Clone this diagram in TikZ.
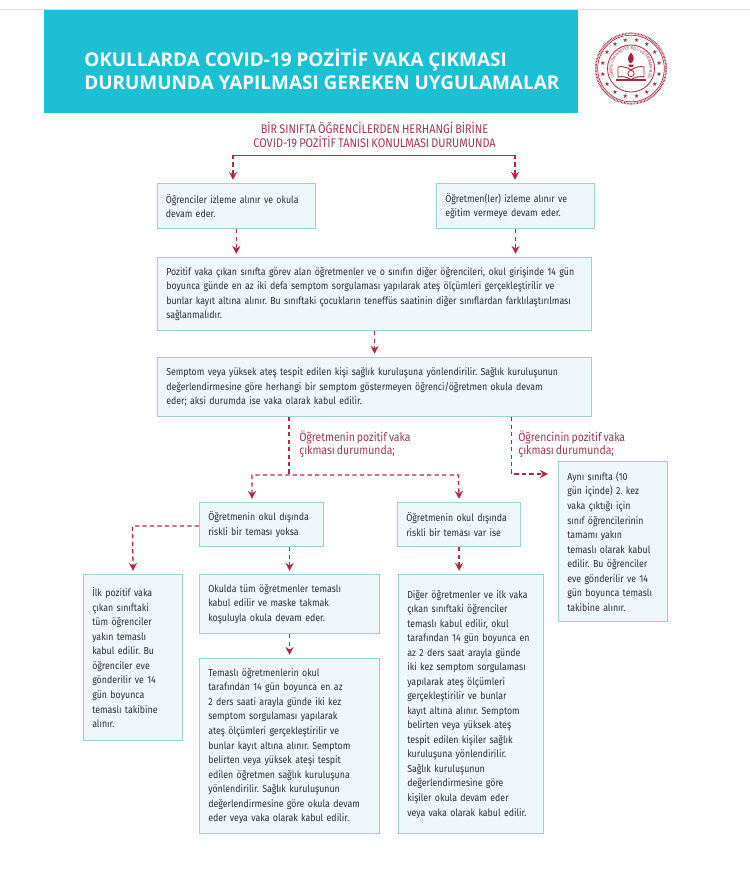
\documentclass[tikz,border=0pt]{standalone}
\usepackage{fontspec}
\usepackage{tikz}
\usepackage{xcolor}
\usetikzlibrary{arrows.meta,decorations.text}
\setmainfont[FakeStretch=0.87,WordSpace=0.75]{Fira Sans}
\newfontfamily\baslikfont{Open Sans}
\newfontfamily\yildizfont{DejaVu Sans}
\definecolor{banner}{HTML}{1DBFD3}
\definecolor{kutuzemin}{HTML}{F0F7FA}
\definecolor{kutukenar}{HTML}{9FCFD3}
\definecolor{metin}{HTML}{2C2C32}
\definecolor{bordo}{HTML}{9A3B52}
\definecolor{ok}{HTML}{AE2A44}
\definecolor{arma}{HTML}{A3283F}
\tikzset{
  >={Stealth[length=6pt,width=6pt]},
  kutu/.style n args={2}{draw=kutukenar,fill=kutuzemin,line width=0.9pt,anchor=north west,
    inner xsep=6.5pt,inner ysep=0pt,align=left,text=metin,
    text width=#1*0.75pt-13pt,minimum height=#2*0.75pt,
    font=\frenchspacing\fontsize{7.6}{10.9}\selectfont},
  baslik/.style={text=bordo,align=center,font=\frenchspacing\fontsize{9.4}{10.6}\selectfont},
  dal/.style={text=bordo,align=left,anchor=north west,inner sep=0pt,font=\frenchspacing\fontsize{9}{10.2}\selectfont},
  kesik/.style={draw=ok,line width=1pt,dash pattern=on 3.2pt off 2.4pt},
  okucu/.style={kesik,->,shorten >=2.3pt}
}
\begin{document}
\begin{tikzpicture}[x=0.75pt,y=-0.75pt]
\useasboundingbox (0,0) rectangle (750,872);
\fill[white] (0,0) rectangle (750,872);
\draw[gray!25,line width=0.6pt] (0,9) -- (750,9);
% ust bant
\fill[banner] (44,10) rectangle (578,113);
\node[anchor=west,inner sep=0pt,text=white,align=left,font=\baslikfont\bfseries\fontsize{14.2}{17.2}\selectfont] (bant) at (84,69.5)
  {OKULLARDA COVID-19 POZİTİF VAKA ÇIKMASI\\DURUMUNDA YAPILMASI GEREKEN UYGULAMALAR};
% arma
\draw[arma,line width=1.3pt,dash pattern=on 0.5pt off 0.6pt] (631,68.5) circle (35.2);
\draw[arma,line width=0.5pt] (631,68.5) circle (33.3);
\draw[arma,line width=0.6pt] (631,68.5) circle (23.5);
\foreach \a in {0,22.5,...,337.5}
  \node[text=arma,inner sep=0pt,font=\yildizfont\fontsize{4.6}{4.6}\selectfont] at ({631+28.6*cos(\a+11.25)},{68.5+28.6*sin(\a+11.25)}) {★};
\path[decorate,decoration={text along path,text align=center,text color=arma,
  text={|\fontsize{3.2}{3.6}\selectfont|TÜRKİYE CUMHURİYETİ MİLLİ EĞİTİM BAKANLIĞI}}]
  plot[domain=-255:75,samples=70] ({631+18.6*cos(\x)},{68.5+18.6*sin(\x)});
\fill[arma] (631,52.5) .. controls (627,57) and (627,61) .. (630.5,63.5) .. controls (634.5,61) and (635,57) .. (631,52.5);
\fill[arma] (628,64.5) -- (634,64.5) -- (632.5,67) -- (629.5,67) -- cycle;
\draw[arma,line width=0.7pt] (618,67) .. controls (622,66) and (627,67) .. (631,70) .. controls (635,67) and (640,66) .. (644,67);
\draw[arma,line width=0.7pt] (618,67) -- (618,77) .. controls (622,76) and (627,77) .. (631,79.5) .. controls (635,77) and (640,76) .. (644,77) -- (644,67);
\draw[arma,line width=0.9pt] (616,80) -- (646,80);
\draw[arma,line width=0.6pt] (631,73.5) circle (3.2);
% kutular
\node[baslik] (baslik) at (374.5,135) {BİR SINIFTA ÖĞRENCİLERDEN HERHANGİ BİRİNE\\COVID-19 POZİTİF TANISI KONULMASI DURUMUNDA};
\node[kutu={158.5}{45}] (ogrenci) at (156.5,183) {Öğrenciler izleme alınır ve okula\\devam eder.};
\node[kutu={158}{45}] (ogretmen) at (436,183) {Öğretmen(ler) izleme alınır ve\\eğitim vermeye devam eder.};
\node[kutu={434}{73}] (pozitif) at (157,257) {Pozitif vaka çıkan sınıfta görev alan öğretmenler ve o sınıfın diğer öğrencileri, okul girişinde 14 gün\\boyunca günde en az iki defa semptom sorgulaması yapılarak ateş ölçümleri gerçekleştirilir ve\\bunlar kayıt altına alınır. Bu sınıftaki çocukların teneffüs saatinin diğer sınıflardan farklılaştırılması\\sağlanmalıdır.};
\node[kutu={434}{59}] (semptom) at (157,357) {Semptom veya yüksek ateş tespit edilen kişi sağlık kuruluşuna yönlendirilir. Sağlık kuruluşunun\\değerlendirmesine göre herhangi bir semptom göstermeyen öğrenci/öğretmen okula devam\\eder; aksi durumda ise vaka olarak kabul edilir.};
\node[dal] (dalsol) at (299,430) {Öğretmenin pozitif vaka\\çıkması durumunda;};
\node[dal] (dalsag) at (518,430) {Öğrencinin pozitif vaka\\çıkması durumunda;};
\node[kutu={109}{160}] (ayni) at (558,461) {Aynı sınıfta (10\\gün içinde) 2. kez\\vaka çıktığı için\\sınıf öğrencilerinin\\tamamı yakın\\temaslı olarak kabul\\edilir. Bu öğrenciler\\eve gönderilir ve 14\\gün boyunca temaslı\\takibine alınır.};
\node[kutu={124}{44}] (yoksa) at (199,502) {Öğretmenin okul dışında\\riskli bir teması yoksa};
\node[kutu={123}{44}] (varise) at (397,502) {Öğretmenin okul dışında\\riskli bir teması var ise};
\node[kutu={99}{166}] (ilk) at (83,574) {İlk pozitif vaka\\çıkan sınıftaki\\tüm öğrenciler\\yakın temaslı\\kabul edilir. Bu\\öğrenciler eve\\gönderilir ve 14\\gün boyunca\\temaslı takibine\\alınır.};
\node[kutu={180}{59}] (okulda) at (199,574) {Okulda tüm öğretmenler temaslı\\kabul edilir ve maske takmak\\koşuluyla okula devam eder.};
\node[kutu={180}{175}] (temasli) at (199,658) {Temaslı öğretmenlerin okul\\tarafından 14 gün boyunca en az\\2 ders saati arayla günde iki kez\\semptom sorgulaması yapılarak\\ateş ölçümleri gerçekleştirilir ve\\bunlar kayıt altına alınır. Semptom\\belirten veya yüksek ateşi tespit\\edilen öğretmen sağlık kuruluşuna\\yönlendirilir. Sağlık kuruluşunun\\değerlendirmesine göre okula devam\\eder veya vaka olarak kabul edilir.};
\node[kutu={145}{259}] (diger) at (398,574) {Diğer öğretmenler ve ilk vaka\\çıkan sınıftaki öğrenciler\\temaslı kabul edilir, okul\\tarafından 14 gün boyunca en\\az 2 ders saat arayla günde\\iki kez semptom sorgulaması\\yapılarak ateş ölçümleri\\gerçekleştirilir ve bunlar\\kayıt altına alınır. Semptom\\belirten veya yüksek ateş\\tespit edilen kişiler sağlık\\kuruluşuna yönlendirilir.\\Sağlık kuruluşunun\\değerlendirmesine göre\\kişiler okula devam eder\\veya vaka olarak kabul edilir.};
% baglantilar
\coordinate (ustsol) at (233,155);
\coordinate (ustsag) at (515,155);
\coordinate (catal) at (289,475);
\coordinate (catalsol) at (252,475);
\coordinate (catalsag) at (458.5,475);
\coordinate (sagkose) at (511.5,474);
\coordinate (sagok) at (548,474);
\coordinate (solkose) at (132.5,526);
\draw[draw=ok,line width=0.7pt] (ustsol) -- (ustsag);
\draw[okucu] (ustsol) -- (ustsol |- ogrenci.north);
\draw[okucu] (ustsag) -- (ustsag |- ogretmen.north);
\draw[okucu] (ogrenci.south) -- (ogrenci.south |- pozitif.north);
\draw[okucu] (ogretmen.south) -- (ogretmen.south |- pozitif.north);
\draw[okucu] (pozitif.south) -- (semptom.north);
\draw[kesik] (catal |- semptom.south) -- (catal);
\draw[okucu,<->,shorten <=2.3pt] (catalsol |- yoksa.north) -- (catalsol) -- (catalsag) -- (varise.north);
\draw[okucu,shorten >=0pt] (sagkose |- semptom.south) -- (sagkose) -- (sagok);
\draw[okucu] (solkose -| yoksa.west) -- (solkose) -- (ilk.north);
\draw[okucu] (okulda.north |- yoksa.south) -- (okulda.north);
\draw[okucu] (okulda.south) -- (temasli.north);
\draw[okucu] (varise.south) -- (varise.south |- diger.north);
\end{tikzpicture}
\end{document}
